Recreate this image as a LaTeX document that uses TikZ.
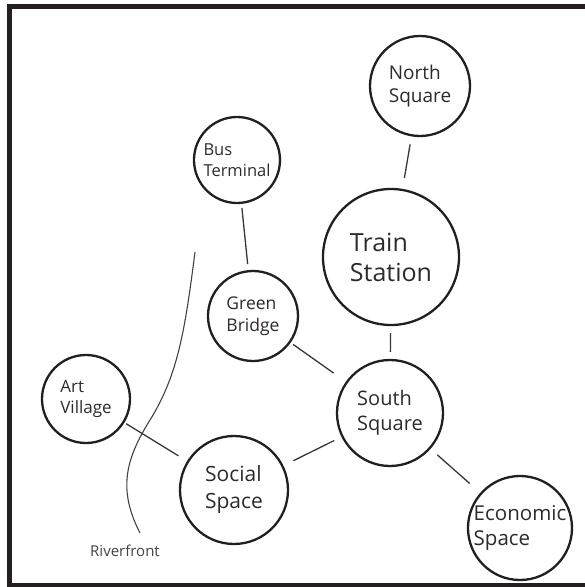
\documentclass[tikz,border=0pt]{standalone}
\usepackage{fontspec}
\setmainfont{Open Sans}
\definecolor{ink}{HTML}{231F20}
\definecolor{txt}{HTML}{2E2A2B}
\definecolor{rivertxt}{HTML}{454142}
\begin{document}
\begin{tikzpicture}[x=1pt,y=-1pt,
  place/.style={circle, draw=ink, line width=2.3pt, inner sep=0pt,
    align=left, text=txt, minimum size=#1},
  link/.style={draw=ink!90, line width=1.3pt},
  frame/.style={draw=ink, line width=5pt},
  river/.style={draw=ink!85, line width=1.1pt}]
\useasboundingbox (0,0) rectangle (585,587);
% outer frame (its right side runs past the page edge)
\draw[frame] (9.5,6.5) rectangle (640,585);

% places
\node[place=100pt, font=\fontsize{19}{23}\selectfont] (north) at (420,86) {North\\Square};
\node[place=136pt, font=\fontsize{25}{30}\selectfont] (train) at (391,257) {Train\\Station};
\node[place=106pt, font=\fontsize{20}{25}\selectfont] (south) at (390,413) {South\\Square};
\node[place=104pt, font=\fontsize{20.5}{25}\selectfont] (econ) at (520,528) {Economic\\Space};
\node[place=108pt, font=\fontsize{21}{27}\selectfont] (social) at (234,490) {Social\\Space};
\node[place=90pt, font=\fontsize{17.5}{22}\selectfont] (green) at (253,316) {Green\\Bridge};
\node[place=86pt, font=\fontsize{16.5}{21}\selectfont] (bus) at (237,160) {Bus\\Terminal};
\node[place=88pt, font=\fontsize{17}{21}\selectfont] (art) at (86,399) {Art\\Village};

% connections
\draw[link, shorten <=8pt, shorten >=11pt] (north) -- (train);
\draw[link, shorten <=7pt, shorten >=7pt] (train) -- (south);
\draw[link, shorten <=4pt, shorten >=6pt] (bus) -- (green);
\draw[link, shorten <=3pt, shorten >=15pt] (green) -- (south);
\draw[link, shorten <=8pt, shorten >=11pt] (south) -- (social);
\draw[link, shorten <=9pt, shorten >=14pt] (south) -- (econ);
\draw[link, shorten <=2pt, shorten >=10pt] (art) -- (social);

% river line and its label
\coordinate (rtop) at (195,252);
\coordinate (rend) at (140,533);
\draw[river] (rtop) .. controls (185,330) and (178,375) .. (150,420)
  .. controls (125,460) and (118,490) .. (rend);
\node[text=rivertxt, font=\fontsize{15}{18}\selectfont] (riverfront) at (125,551) {Riverfront};
\end{tikzpicture}
\end{document}
